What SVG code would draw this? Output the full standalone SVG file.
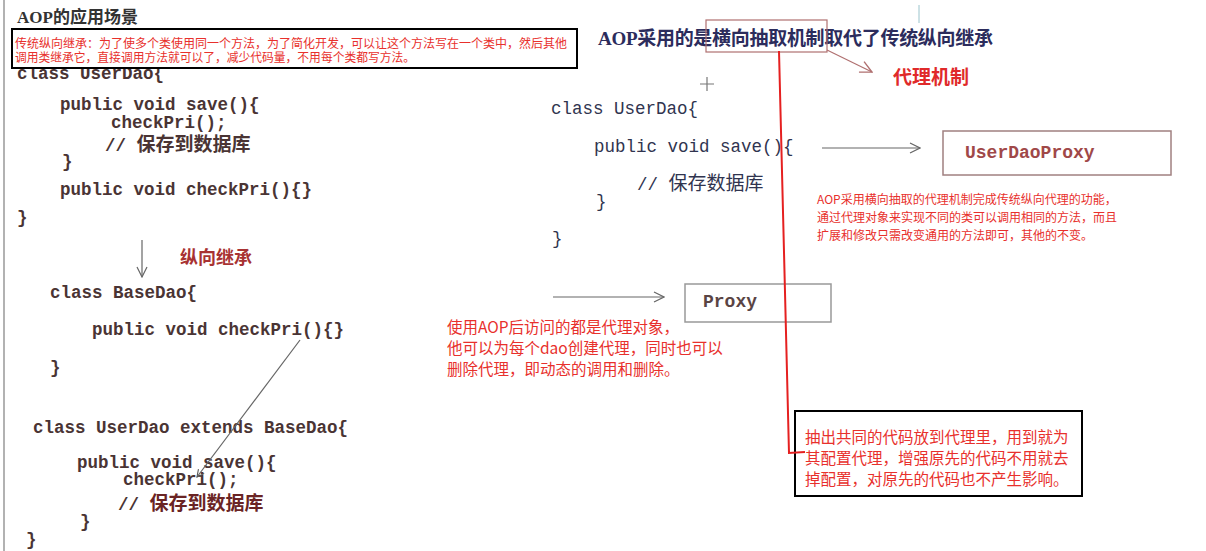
<svg xmlns="http://www.w3.org/2000/svg" width="1206" height="551" viewBox="0 0 1206 551">
<style>
.code{font-family:"Liberation Mono","Noto Sans CJK SC",monospace;font-size:17.5px;fill:#4a3434;font-weight:bold}
.codeR{font-family:"Liberation Mono","Noto Sans CJK SC",monospace;font-size:17.5px;fill:#30344f}
.cjk{font-family:"Noto Sans CJK SC",sans-serif}
.red{font-family:"Noto Sans CJK SC",sans-serif;fill:#e8302c}
.title{font-family:"Liberation Serif","Noto Sans CJK SC",serif;font-weight:bold}
.conn{fill:none;stroke:#666;stroke-width:1.2}
</style>
<defs>
<marker id="open" viewBox="0 0 12 12" refX="11" refY="6" markerWidth="12" markerHeight="12" markerUnits="userSpaceOnUse" orient="auto">
<path d="M1,1 L11,6 L1,11" fill="none" stroke="#666" stroke-width="1.2"/>
</marker>
<marker id="openR" viewBox="0 0 12 12" refX="11" refY="6" markerWidth="14" markerHeight="14" markerUnits="userSpaceOnUse" orient="auto">
<path d="M1,1 L11,6 L1,11" fill="none" stroke="#b07070" stroke-width="1.2"/>
</marker>
<marker id="small" viewBox="0 0 10 10" refX="9" refY="5" markerWidth="9" markerHeight="9" markerUnits="userSpaceOnUse" orient="auto">
<path d="M1,1 L9,5 L1,9" fill="none" stroke="#555" stroke-width="1.2"/>
</marker>
</defs>
<rect x="0" y="0" width="1206" height="551" fill="#ffffff"/>
<line x1="4" y1="0" x2="4" y2="551" stroke="#999" stroke-width="1.5"/>

<g id="left-code">
<text class="title" x="17" y="23" font-size="17" fill="#333">AOP的应用场景</text>
<text class="code" x="17" y="79">class UserDao{</text>
<text class="code" x="60" y="110">public void save(){</text>
<text class="code" x="111" y="128" fill="#9a4242">checkPri();</text>
<text class="code" x="105" y="151">// <tspan class="cjk" font-size="19">保存到数据库</tspan></text>
<text class="code" x="62" y="167">}</text>
<text class="code" x="60" y="195">public void checkPri(){}</text>
<text class="code" x="17" y="223">}</text>
<text class="cjk" x="180" y="264" font-size="18" font-weight="bold" fill="#a83232">纵向继承</text>
<text class="code" x="50" y="298">class BaseDao{</text>
<text class="code" x="92" y="335">public void checkPri(){}</text>
<text class="code" x="50" y="373">}</text>
<text class="code" x="33" y="433">class UserDao extends BaseDao{</text>
<text class="code" x="77" y="468">public void save(){</text>
<text class="code" x="123" y="485" fill="#2c3a78">checkPri();</text>
<text class="code" x="118" y="510">// <tspan class="cjk" font-size="19" fill="#6a2424">保存到数据库</tspan></text>
<text class="code" x="80" y="527">}</text>
<text class="code" x="26" y="545">}</text>
</g>

<g id="note-top">
<rect x="12" y="29" width="565" height="39" fill="#fff" stroke="#000" stroke-width="2"/>
<text class="red" x="15" y="47.5" font-size="12.2" textLength="552" lengthAdjust="spacingAndGlyphs">传统纵向继承：为了使多个类使用同一个方法，为了简化开发，可以让这个方法写在一个类中，然后其他</text>
<text class="red" x="15" y="61.5" font-size="12.2" textLength="400" lengthAdjust="spacingAndGlyphs">调用类继承它，直接调用方法就可以了，减少代码量，不用每个类都写方法。</text>
</g>

<g id="right-title">
<text class="title" x="598" y="45" font-size="19" fill="#2c2c5c" textLength="395" lengthAdjust="spacing">AOP采用的是横向抽取机制取代了传统纵向继承</text>
<rect x="706" y="20" width="121" height="32" fill="none" stroke="#b07070" stroke-width="1.2"/>
<text class="cjk" x="893" y="84" font-size="19" font-weight="bold" fill="#e02a2a">代理机制</text>
</g>

<g id="right-code">
<text class="codeR" x="551" y="114">class UserDao{</text>
<text class="codeR" x="594" y="152">public void save(){</text>
<text class="codeR" x="637" y="190">// <tspan class="cjk" font-size="19">保存数据库</tspan></text>
<text class="codeR" x="596" y="207">}</text>
<text class="codeR" x="552" y="244">}</text>
</g>

<g id="userdaoproxy">
<rect x="943" y="131" width="228" height="44" fill="#fff" stroke="#a08080" stroke-width="1.5"/>
<text x="965" y="158" font-family="Liberation Mono, monospace" font-size="18" font-weight="bold" fill="#a04848">UserDaoProxy</text>
</g>

<g id="note-aop">
<text class="red" x="817" y="204" font-size="12">AOP采用横向抽取的代理机制完成传统纵向代理的功能，</text>
<text class="red" x="817" y="222" font-size="12">通过代理对象来实现不同的类可以调用相同的方法，而且</text>
<text class="red" x="817" y="240" font-size="12">扩展和修改只需改变通用的方法即可，其他的不变。</text>
</g>

<g id="proxy">
<rect x="685" y="284" width="146" height="38" fill="#fff" stroke="#999" stroke-width="1.5"/>
<text x="703" y="307" font-family="Liberation Mono, monospace" font-size="18" font-weight="bold" fill="#5a4444">Proxy</text>
</g>

<g id="note-proxy">
<text class="red" x="447" y="333" font-size="15.5">使用AOP后访问的都是代理对象，</text>
<text class="red" x="447" y="354" font-size="15.5">他可以为每个dao创建代理，同时也可以</text>
<text class="red" x="447" y="375" font-size="15.5">删除代理，即动态的调用和删除。</text>
</g>

<g id="note-bottom">
<rect x="795" y="411" width="287" height="85" fill="#fff" stroke="#000" stroke-width="2"/>
<text class="red" x="805" y="443" font-size="15.5">抽出共同的代码放到代理里，用到就为</text>
<text class="red" x="805" y="464" font-size="15.5">其配置代理，增强原先的代码不用就去</text>
<text class="red" x="805" y="485" font-size="15.5">掉配置，对原先的代码也不产生影响。</text>
</g>

<g id="connectors">
<line class="conn" x1="142" y1="240" x2="142" y2="277" marker-end="url(#open)"/>
<line class="conn" x1="300" y1="340" x2="197" y2="477" marker-end="url(#small)"/>
<line x1="827" y1="50" x2="872" y2="72" stroke="#b07070" stroke-width="1.2" marker-end="url(#openR)"/>
<line class="conn" x1="822" y1="148" x2="920" y2="148" marker-end="url(#open)"/>
<line class="conn" x1="553" y1="297" x2="664" y2="297" marker-end="url(#open)"/>
<polyline points="779,51 789,453 805,452" fill="none" stroke="#e52020" stroke-width="2"/>
<path d="M700,84 H714 M707,77 V91" stroke="#777" stroke-width="1.2"/>
<line x1="919" y1="5" x2="919" y2="23" stroke="#9bc4cc" stroke-width="1"/>
</g>
</svg>
